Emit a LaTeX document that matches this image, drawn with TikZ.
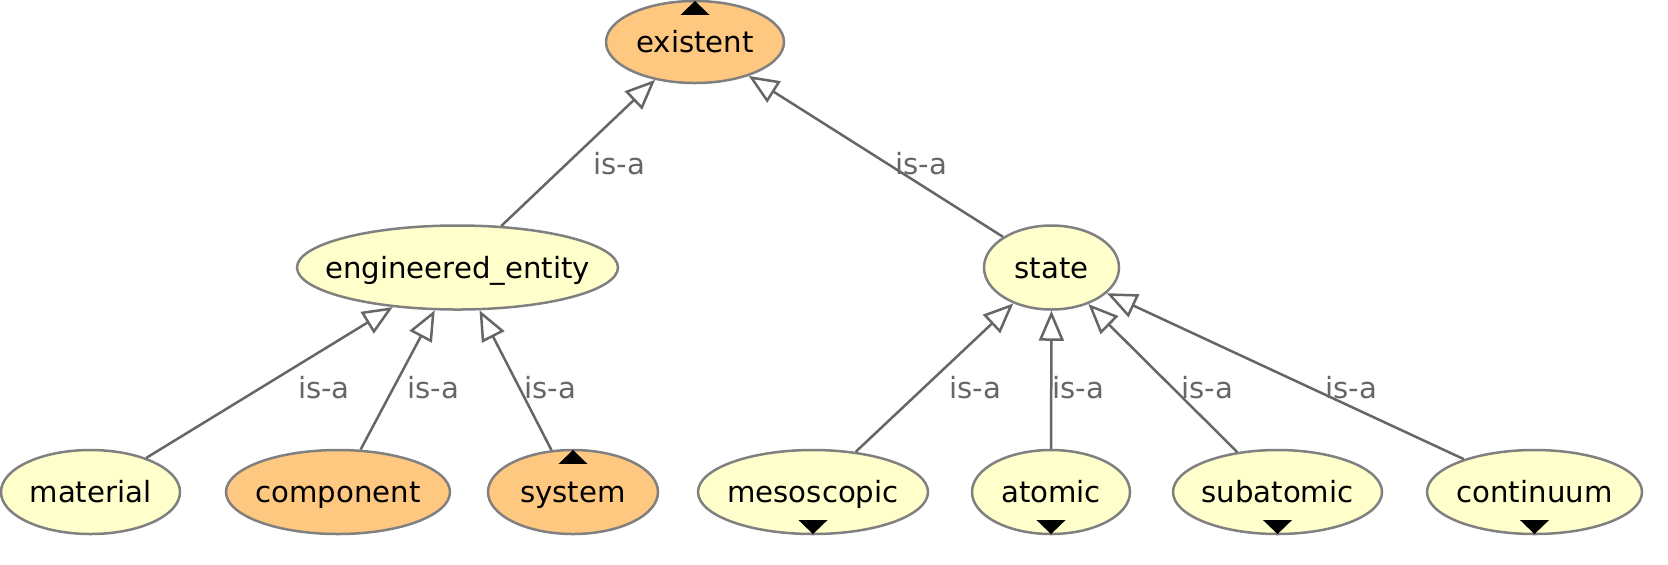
\documentclass[tikz,border=0pt]{standalone}
\usepackage{fontspec}
\setmainfont{DejaVu Sans}
\usetikzlibrary{arrows.meta,shapes.geometric}
\definecolor{edgegray}{HTML}{666666}
\definecolor{bordergray}{HTML}{808080}
\definecolor{orangefill}{HTML}{FFC880}
\definecolor{yellowfill}{HTML}{FFFFCC}
\begin{document}
\begin{tikzpicture}[x=0.5pt,y=-0.5pt,
  ent/.style={ellipse, draw=bordergray, line width=1.25pt, inner sep=0pt, minimum height=42pt},
  txt/.style={font=\fontsize{14.6}{17}\selectfont, text height=10.5pt, text depth=0pt, inner sep=0pt},
  isa/.style={draw=edgegray, line width=1.25pt, -{Triangle[open,length=15pt,width=12.5pt]}},
  lbl/.style={txt, text=edgegray},
  orangenode/.style={ent, fill=orangefill},
  yellownode/.style={ent, fill=yellowfill},
  marker/.style={fill=black},
]
\useasboundingbox (0,0) rectangle (1668,564);

% nodes
\node[orangenode, minimum width=89pt, minimum height=41pt, label={[txt]center:existent}] (existent) at (695,42) {};
\node[yellownode, minimum width=160.5pt, label={[txt]center:engineered\_entity}] (ee) at (457.5,267.5) {};
\node[yellownode, minimum width=67.5pt, label={[txt]center:state}] (state) at (1051.5,267.5) {};
\node[yellownode, minimum width=89.5pt, label={[txt]center:material}] (material) at (90.5,492) {};
\node[orangenode, minimum width=112pt, label={[txt]center:component}] (component) at (338,492) {};
\node[orangenode, minimum width=85pt, label={[txt]center:system}] (system) at (573,492) {};
\node[yellownode, minimum width=115pt, label={[txt]center:mesoscopic}] (meso) at (813,492) {};
\node[yellownode, minimum width=79pt, label={[txt]center:atomic}] (atomic) at (1051,492) {};
\node[yellownode, minimum width=104.5pt, label={[txt]center:subatomic}] (subatomic) at (1277.5,492) {};
\node[yellownode, minimum width=107.5pt, label={[txt]center:continuum}] (continuum) at (1534.5,492) {};

% edges
\draw[isa] (ee) -- (existent);
\draw[isa] (state) -- (existent);
\draw[isa] (material) -- (ee);
\draw[isa] (component) -- (ee);
\draw[isa] (system) -- (ee);
\draw[isa] (meso) -- (state);
\draw[isa] (atomic) -- (state);
\draw[isa] (subatomic) -- (state);
\draw[isa] (continuum) -- (state);

% edge labels
\node[lbl] (l1) at (619,164) {is-a};
\node[lbl] (l2) at (921,164) {is-a};
\node[lbl] (l3) at (324,388) {is-a};
\node[lbl] (l4) at (433,388) {is-a};
\node[lbl] (l5) at (550,388) {is-a};
\node[lbl] (l6) at (975,388) {is-a};
\node[lbl] (l7) at (1078,388) {is-a};
\node[lbl] (l8) at (1207,388) {is-a};
\node[lbl] (l9) at (1351,388) {is-a};

% expand markers
\fill[marker] ([yshift=-0.6pt]existent.north) -- ++(-14.5,14) -- ++(29,0) -- cycle;
\fill[marker] ([yshift=-0.6pt]system.north) -- ++(-14.5,14) -- ++(29,0) -- cycle;
\fill[marker] ([yshift=0.6pt]meso.south) -- ++(-14.5,-14) -- ++(29,0) -- cycle;
\fill[marker] ([yshift=0.6pt]atomic.south) -- ++(-14.5,-14) -- ++(29,0) -- cycle;
\fill[marker] ([yshift=0.6pt]subatomic.south) -- ++(-14.5,-14) -- ++(29,0) -- cycle;
\fill[marker] ([yshift=0.6pt]continuum.south) -- ++(-14.5,-14) -- ++(29,0) -- cycle;
\end{tikzpicture}
\end{document}
